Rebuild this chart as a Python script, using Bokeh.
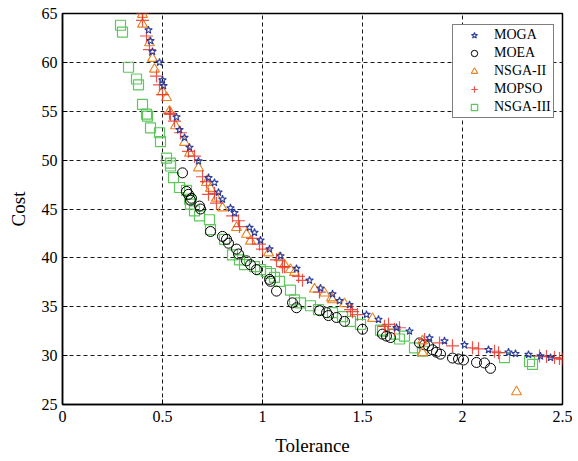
from bokeh.plotting import figure
from bokeh.models import Range1d, FixedTicker, Legend, LegendItem
from bokeh.embed import file_html
from bokeh.resources import INLINE

# ---- data ----
moga_x = [0.43, 0.44, 0.45, 0.485, 0.50, 0.505, 0.57, 0.585, 0.61, 0.635, 0.68, 0.73, 0.76, 0.78, 0.80,
          0.84, 0.86, 0.935, 0.96, 0.99, 1.035, 1.09, 1.17, 1.235, 1.29, 1.35, 1.385, 1.435, 1.52, 1.58,
          1.67, 1.735, 1.835, 1.91, 2.01, 2.13, 2.23, 2.265, 2.33, 2.39, 2.44]
moga_y = [63.3, 62.2, 61.1, 60.0, 58.2, 57.6, 54.4, 53.1, 52.3, 51.3, 49.9, 48.2, 47.7, 46.7, 46.0,
          45.1, 44.6, 43.1, 42.6, 41.8, 40.9, 40.2, 38.9, 37.7, 36.9, 36.3, 35.6, 35.2, 34.2, 33.7,
          32.85, 32.5, 31.8, 31.5, 31.1, 30.6, 30.35, 30.2, 30.1, 29.95, 29.8]

moea_x = [0.60, 0.62, 0.63, 0.64, 0.645, 0.685, 0.69, 0.74, 0.80, 0.82, 0.83, 0.87, 0.88, 0.92, 0.94,
          0.97, 1.035, 1.04, 1.07, 1.15, 1.17, 1.285, 1.32, 1.33, 1.37, 1.41, 1.50, 1.60, 1.62, 1.64,
          1.785, 1.81, 1.83, 1.85, 1.87, 1.89, 1.95, 1.98, 2.005, 2.07, 2.11, 2.14]
moea_y = [48.7, 46.8, 46.5, 45.9, 46.1, 45.3, 45.0, 42.7, 42.2, 41.9, 41.5, 40.9, 40.4, 39.7, 39.3,
          38.8, 37.8, 37.6, 36.6, 35.4, 34.9, 34.6, 34.4, 34.1, 33.9, 33.5, 32.7, 32.2, 32.0, 31.85,
          31.3, 31.1, 31.0, 30.6, 30.35, 30.15, 29.75, 29.65, 29.55, 29.3, 29.25, 28.7]

nsga2_x = [0.40, 0.40, 0.435, 0.45, 0.46, 0.50, 0.52, 0.535, 0.565, 0.61, 0.635, 0.68, 0.72, 0.74,
           0.77, 0.80, 0.87, 0.92, 0.94, 1.03, 1.085, 1.11, 1.14, 1.16, 1.26, 1.31, 1.345, 1.35, 1.41,
           1.55, 1.80, 1.80, 2.27]
nsga2_y = [64.9, 63.9, 62.0, 60.4, 59.3, 57.0, 56.4, 55.0, 53.5, 51.8, 50.7, 49.2, 47.7, 47.1,
           46.1, 45.1, 43.1, 42.4, 41.7, 40.5, 40.0, 39.3, 38.8, 38.5, 36.8, 36.4, 35.9, 35.7, 35.3,
           33.8, 31.5, 30.3, 26.3]

mopso_x = [0.40, 0.40, 0.42, 0.435, 0.47, 0.485, 0.50, 0.535, 0.54, 0.56, 0.59, 0.63, 0.66, 0.70,
           0.72, 0.73, 0.76, 0.77, 0.85, 0.88, 0.885, 0.95, 0.985, 1.00, 1.07, 1.10, 1.11, 1.18, 1.20,
           1.285, 1.44, 1.45, 1.475, 1.61, 1.63, 1.66, 1.685, 1.81, 1.885, 1.95, 2.05, 2.08, 2.16,
           2.18, 2.385, 2.42, 2.46, 2.485, 2.50]
mopso_y = [65.0, 64.3, 62.7, 61.3, 58.6, 57.7, 56.7, 54.8, 54.7, 54.0, 52.8, 50.9, 50.4, 48.3,
           47.8, 46.5, 46.6, 45.6, 44.3, 43.8, 43.2, 42.0, 41.4, 40.9, 39.8, 39.1, 39.1, 38.1, 37.7,
           36.5, 34.7, 34.5, 34.2, 33.0, 33.2, 32.7, 32.85, 31.65, 31.3, 31.0, 30.8, 30.7, 30.45,
           30.3, 29.95, 29.9, 29.8, 29.7, 29.65]

nsga3_x = [0.29, 0.30, 0.33, 0.37, 0.38, 0.40, 0.42, 0.425, 0.44, 0.485, 0.49, 0.52, 0.54, 0.54,
           0.555, 0.585, 0.62, 0.635, 0.64, 0.66, 0.685, 0.735, 0.74, 0.81, 0.85, 0.885, 0.91, 0.96,
           0.99, 1.02, 1.04, 1.06, 1.085, 1.14, 1.16, 1.19, 1.24, 1.28, 1.35, 1.40, 1.44, 1.49, 1.59,
           1.60, 1.66, 1.685, 1.71, 1.76, 1.80, 2.21, 2.335, 2.35]
nsga3_y = [63.8, 63.1, 59.5, 58.3, 57.7, 55.7, 54.7, 54.5, 53.3, 52.8, 51.9, 50.2, 49.7, 49.4,
           48.2, 47.2, 46.9, 46.0, 45.5, 44.8, 44.3, 43.9, 42.9, 41.9, 40.3, 39.8, 39.3, 39.1,
           38.8, 38.6, 38.4, 38.0, 37.6, 36.7, 35.7, 35.4, 35.1, 34.7, 34.4, 34.0, 33.5, 33.2, 32.6,
           32.5, 32.2, 31.7, 32.0, 30.8, 30.45, 29.8, 29.4, 29.1]

x_ticks = [0, 0.5, 1, 1.5, 2, 2.5]
x_tick_labels = ["0", "0.5", "1", "1.5", "2", "2.5"]
y_ticks = [25, 30, 35, 40, 45, 50, 55, 60, 65]
y_tick_labels = ["25", "30", "35", "40", "45", "50", "55", "60", "65"]

FONT = "Liberation Serif"

p = figure(width=572, height=460, output_backend="svg", toolbar_location=None,
           x_range=Range1d(0, 2.5), y_range=Range1d(25, 65),
           min_border_left=62, min_border_right=10, min_border_top=13, min_border_bottom=56)
p.background_fill_color = "white"
p.border_fill_color = "white"
p.outline_line_color = "black"
p.outline_line_width = 1.5
p.outline_line_alpha = 1.0

for ax, ticks, labels in ((p.xaxis[0], x_ticks, x_tick_labels), (p.yaxis[0], y_ticks, y_tick_labels)):
    ax.ticker = FixedTicker(ticks=ticks)
    ax.major_label_overrides = dict(zip(ticks, labels))
    ax.major_tick_in = 5
    ax.major_tick_out = 0
    ax.minor_tick_line_color = None
    ax.major_tick_line_color = "black"
    ax.axis_line_color = "black"
    ax.axis_line_width = 1.5
    ax.major_label_text_font = FONT
    ax.major_label_text_font_size = "16px"
    ax.major_label_text_color = "black"
    ax.axis_label_text_font = FONT
    ax.axis_label_text_font_size = "19px"
    ax.axis_label_text_font_style = "normal"
    ax.axis_label_text_color = "black"

p.xaxis[0].axis_label = "Tolerance"
p.yaxis[0].axis_label = "Cost"
p.xaxis[0].major_label_standoff = 6
p.yaxis[0].major_label_standoff = 5
p.xaxis[0].axis_label_standoff = 10
p.yaxis[0].axis_label_standoff = 10

for g in p.grid:
    g.grid_line_color = "black"
    g.grid_line_dash = "4 3"
    g.grid_line_width = 1
    g.grid_line_alpha = 0.9
p.xgrid[0].ticker = FixedTicker(ticks=x_ticks)
p.ygrid[0].ticker = FixedTicker(ticks=y_ticks)

r_nsga3 = p.scatter(nsga3_x, nsga3_y, marker="square", size=10, fill_color=None,
                    line_color="#5cc85a", line_width=1.2)
r_moea = p.scatter(moea_x, moea_y, marker="circle", size=10, fill_color=None,
                   line_color="black", line_width=1)
r_nsga2 = p.scatter(nsga2_x, nsga2_y, marker="triangle", size=10, fill_color=None,
                    line_color="#e8841e", line_width=1.1)
r_mopso = p.scatter(mopso_x, mopso_y, marker="cross", size=13, fill_color=None,
                    line_color="#e8362a", line_width=1.2, line_alpha=0.85)
r_moga = p.scatter(moga_x, moga_y, marker="star", size=8, fill_color=None,
                   line_color="#2b3c9c", line_width=1.1)

legend = Legend(items=[
    LegendItem(label="MOGA", renderers=[r_moga]),
    LegendItem(label="MOEA", renderers=[r_moea]),
    LegendItem(label="NSGA-II", renderers=[r_nsga2]),
    LegendItem(label="MOPSO", renderers=[r_mopso]),
    LegendItem(label="NSGA-III", renderers=[r_nsga3]),
], location=(390, 286))
legend.label_text_font = FONT
legend.label_text_font_size = "14px"
legend.label_text_color = "black"
legend.glyph_width = 38
legend.glyph_height = 16
legend.label_height = 16
legend.spacing = 2
legend.padding = 2
legend.margin = 0
legend.label_standoff = 1
legend.border_line_color = "black"
legend.border_line_width = 1
legend.background_fill_color = "white"
legend.background_fill_alpha = 1
p.add_layout(legend, "center")

open("out.html", "w").write(file_html(p, INLINE))
